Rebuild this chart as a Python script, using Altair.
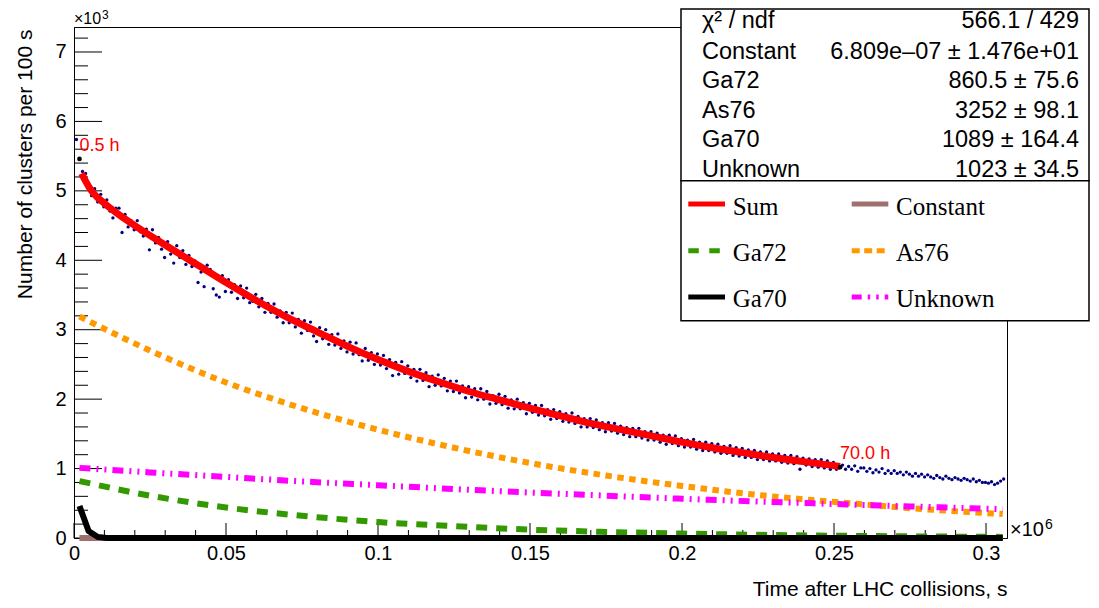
import altair as alt
import pandas as pd

# ---------------- data (x in 10^6 s, y in 10^3 clusters per 100 s) ----------------
X_MAX = 0.3069
Y_MAX = 7.36
X_TICKS = [0, 0.05, 0.1, 0.15, 0.2, 0.25, 0.3]
Y_TICKS = [0, 1, 2, 3, 4, 5, 6, 7]

BIN_START = 0.0008
BIN_WIDTH = 0.001
RATE = [
    5.74, 5.46, 5.28, 5.25, 5.10, 4.93, 5.03, 4.84, 4.95, 4.77,
    4.87, 4.71, 4.61, 4.75, 4.75, 4.40, 4.66, 4.48, 4.57, 4.44,
    4.57, 4.41, 4.35, 4.45, 4.15, 4.44, 4.25, 4.33, 4.16, 4.04,
    4.27, 4.09, 3.96, 4.21, 4.04, 4.14, 3.94, 4.07, 3.91, 3.99,
    3.68, 3.83, 3.62, 3.93, 3.87, 3.59, 3.50, 3.47, 3.78, 3.55,
    3.72, 3.54, 3.65, 3.45, 3.63, 3.46, 3.60, 3.39, 3.41, 3.51,
    3.33, 3.45, 3.25, 3.38, 3.25, 3.37, 3.18, 3.27, 3.10, 3.25,
    3.10, 3.24, 3.04, 3.15, 2.95, 3.13, 2.99, 3.11, 2.91, 2.83,
    3.03, 2.87, 3.00, 2.79, 2.93, 2.78, 2.94, 2.73, 2.84, 2.68,
    2.82, 2.65, 2.81, 2.64, 2.55, 2.73, 2.56, 2.67, 2.50, 2.65,
    2.49, 2.63, 2.44, 2.57, 2.34, 2.53, 2.36, 2.54, 2.37, 2.48,
    2.31, 2.43, 2.26, 2.43, 2.27, 2.38, 2.18, 2.33, 2.20, 2.35,
    2.19, 2.30, 2.12, 2.26, 2.11, 2.26, 2.09, 2.19, 2.02, 2.18,
    2.03, 2.15, 1.99, 2.15, 2.00, 2.11, 1.93, 2.05, 1.94, 2.07,
    1.92, 2.04, 1.87, 1.99, 1.86, 2.00, 1.86, 1.95, 1.79, 1.94,
    1.81, 1.91, 1.77, 1.91, 1.76, 1.85, 1.71, 1.85, 1.72, 1.82,
    1.68, 1.79, 1.67, 1.80, 1.65, 1.75, 1.60, 1.72, 1.60, 1.72,
    1.59, 1.70, 1.56, 1.66, 1.53, 1.66, 1.54, 1.65, 1.51, 1.61,
    1.49, 1.59, 1.46, 1.58, 1.46, 1.58, 1.44, 1.53, 1.41, 1.53,
    1.41, 1.51, 1.38, 1.48, 1.35, 1.48, 1.36, 1.47, 1.33, 1.43,
    1.31, 1.41, 1.31, 1.42, 1.28, 1.38, 1.26, 1.38, 1.26, 1.36,
    1.24, 1.35, 1.22, 1.32, 1.22, 1.33, 1.19, 1.30, 1.18, 1.29,
    1.16, 1.27, 1.16, 1.26, 1.13, 1.24, 1.13, 1.24, 1.11, 1.21,
    1.11, 1.21, 1.09, 1.19, 1.08, 1.19, 1.07, 1.17, 0.99, 1.15,
    1.05, 1.14, 1.03, 1.13, 1.02, 1.13, 1.01, 1.11, 0.99, 1.09,
    0.99, 1.03, 1.05, 0.99, 1.03, 0.99, 1.04, 0.96, 1.01, 1.01,
    0.96, 1.00, 0.94, 0.98, 0.95, 1.00, 0.93, 0.97, 0.93, 0.97,
    0.93, 0.95, 0.91, 0.95, 0.92, 0.89, 0.93, 0.89, 0.92, 0.88,
    0.91, 0.88, 0.86, 0.90, 0.87, 0.85, 0.89, 0.86, 0.84, 0.87,
    0.85, 0.83, 0.86, 0.84, 0.82, 0.85, 0.81, 0.83, 0.80, 0.80,
    0.79, 0.81, 0.77, 0.79, 0.82, 0.85,
]

SUM_X = [0.0025, 0.005, 0.0065, 0.01, 0.015, 0.02, 0.03, 0.04, 0.05, 0.06,
         0.07, 0.08, 0.09, 0.1, 0.11, 0.12, 0.13, 0.14, 0.15, 0.16,
         0.17, 0.18, 0.19, 0.2, 0.21, 0.22, 0.23, 0.24, 0.252]
SUM_Y = [5.25, 5.05, 4.96, 4.82, 4.65, 4.50, 4.22, 3.95, 3.68, 3.42,
         3.18, 2.97, 2.76, 2.57, 2.40, 2.25, 2.11, 1.99, 1.87, 1.76,
         1.65, 1.56, 1.47, 1.38, 1.30, 1.23, 1.16, 1.10, 1.03]

COMP_X = [0.0018, 0.025, 0.05, 0.075, 0.1, 0.125, 0.15, 0.175, 0.2, 0.225, 0.25, 0.275, 0.3055]
AS76 = [3.19, 2.70, 2.24, 1.87, 1.56, 1.30, 1.08, 0.90, 0.75, 0.62, 0.52, 0.43, 0.345]
GA72 = [0.82, 0.61, 0.44, 0.32, 0.23, 0.17, 0.12, 0.088, 0.064, 0.046, 0.033, 0.024, 0.016]
UNKNOWN = [1.01, 0.945, 0.88, 0.815, 0.76, 0.705, 0.655, 0.61, 0.565, 0.525, 0.49, 0.455, 0.415]
GA70_X = [0.0018, 0.0048, 0.0078, 0.0108, 0.3055]
GA70 = [0.46, 0.10, 0.015, 0.0, 0.0]
CONST_X = [0.0018, 0.3055]
CONST = [0.0, 0.0]

RANGE_X = [0.0018, 0.252]
RANGE_Y = [5.46, 1.02]
RANGE_LABELS = ["0.5 h", "70.0 h"]

STAT_NAMES = ["χ² / ndf", "Constant", "Ga72", "As76", "Ga70", "Unknown"]
STAT_VALUES = ["566.1 / 429", "6.809e–07 ± 1.476e+01", "860.5 ± 75.6",
               "3252 ± 98.1", "1089 ± 164.4", "1023 ± 34.5"]
LEGEND_NAMES = ["Sum", "Constant", "Ga72", "As76", "Ga70", "Unknown"]

# ---------------- styles ----------------
SANS = "Liberation Sans"
SERIF = "Liberation Serif"
W, H = 933, 511
C_RED, C_BROWN, C_GREEN = "#ff0000", "#9f7070", "#339900"
C_ORANGE, C_BLACK, C_MAGENTA = "#ff9900", "#000000", "#ff00ff"
C_NAVY = "#000080"

xs = alt.Scale(domain=[0, X_MAX], nice=False, zero=False)
ys = alt.Scale(domain=[0, Y_MAX], nice=False, zero=False)
x_axis = alt.Axis(values=X_TICKS, format="~g", ticks=False, tickSize=0, labelFontSize=20,
                  labelPadding=5, labelFlush=False, labelOverlap=False, grid=False,
                  domainColor="black", labelColor="black", labelFont=SANS,
                  title="Time after LHC collisions, s", titleFont=SANS, titleFontSize=21,
                  titleFontWeight="normal", titleColor="black", titleX=W, titleY=57,
                  titleAlign="right", titleBaseline="alphabetic")
y_axis = alt.Axis(values=Y_TICKS, format="d", ticks=False, tickSize=0, labelFontSize=20,
                  labelPadding=8, labelFlush=False, labelOverlap=False, grid=False,
                  domainColor="black", labelColor="black", labelFont=SANS,
                  title="Number of clusters per 100 s", titleFont=SANS, titleFontSize=21,
                  titleFontWeight="normal", titleColor="black", titleX=-43, titleY=2,
                  titleAngle=270, titleAlign="right", titleBaseline="alphabetic")
X = alt.X("t:Q", scale=xs, axis=x_axis)
Y = alt.Y("v:Q", scale=ys, axis=y_axis)

ONE = pd.DataFrame({"k": [0]})


def curve(xv, yv, color, width, dash=None, interp="monotone"):
    df = pd.DataFrame({"t": xv, "v": yv})
    kw = dict(color=color, strokeWidth=width, interpolate=interp, strokeCap="butt")
    if dash:
        kw["strokeDash"] = dash
    return alt.Chart(df).mark_line(**kw).encode(x=X, y=Y)


def txt(s, x, y, size, align="left", font=SANS, color="black"):
    return alt.Chart(ONE).mark_text(text=s, align=align, baseline="alphabetic", font=font,
                                    fontSize=size, color=color).encode(
        x=alt.value(x), y=alt.value(y))


def hline(x1, x2, y, color, width, dash=None):
    kw = dict(color=color, strokeWidth=width, strokeCap="butt")
    if dash:
        kw["strokeDash"] = dash
    return alt.Chart(ONE).mark_rule(**kw).encode(x=alt.value(x1), x2=alt.value(x2), y=alt.value(y))


layers = []

# inward ticks
x_minor = [round(0.01 * i, 2) for i in range(1, 31) if i % 5 != 0]
y_minor = [round(0.2 * i, 1) for i in range(1, 37) if i % 5 != 0]
layers.append(alt.Chart(pd.DataFrame({"t": X_TICKS})).mark_rule(color="black", strokeWidth=1)
              .encode(x=X, y=alt.value(H), y2=alt.value(H - 15)))
layers.append(alt.Chart(pd.DataFrame({"t": x_minor})).mark_rule(color="black", strokeWidth=1)
              .encode(x=X, y=alt.value(H), y2=alt.value(H - 8)))
layers.append(alt.Chart(pd.DataFrame({"v": Y_TICKS})).mark_rule(color="black", strokeWidth=1)
              .encode(y=Y, x=alt.value(0), x2=alt.value(28)))
layers.append(alt.Chart(pd.DataFrame({"v": y_minor})).mark_rule(color="black", strokeWidth=1)
              .encode(y=Y, x=alt.value(0), x2=alt.value(14)))

# data points
pts = pd.DataFrame({"t": [BIN_START + i * BIN_WIDTH for i in range(len(RATE))], "v": RATE})
layers.append(alt.Chart(pts).mark_circle(color=C_NAVY, size=11, opacity=1).encode(x=X, y=Y))

# component curves and sum
layers.append(curve(CONST_X, CONST, C_BROWN, 6, interp="linear"))
layers.append(curve(COMP_X, GA72, C_GREEN, 6, dash=[11, 9]))
layers.append(curve(COMP_X, AS76, C_ORANGE, 6, dash=[6.5, 5.5]))
layers.append(curve(GA70_X, GA70, C_BLACK, 6, interp="linear"))
layers.append(curve(COMP_X, UNKNOWN, C_MAGENTA, 6, dash=[11, 6, 2, 6, 2, 6]))
layers.append(curve(SUM_X, SUM_Y, C_RED, 7))

# fit-range markers and labels
rng = pd.DataFrame({"t": RANGE_X, "v": RANGE_Y, "lab": RANGE_LABELS})
layers.append(alt.Chart(rng).mark_circle(color="black", size=22, opacity=1).encode(x=X, y=Y))
layers.append(alt.Chart(rng).mark_text(align="left", baseline="alphabetic", dx=0, dy=-8,
                                       font=SANS, fontSize=18, color=C_RED)
              .encode(x=X, y=Y, text="lab:N"))

# exponent labels
layers.append(txt("×10", 0, -3, 16))
layers.append(txt("3", 28, -8, 12))
layers.append(txt("×10", 936, 509, 20))
layers.append(txt("6", 971, 502, 14))

# stat box
BX1, BX2 = 607, 1015
layers.append(alt.Chart(ONE).mark_rect(fill="white", stroke="black", strokeWidth=1.5)
              .encode(x=alt.value(BX1), x2=alt.value(BX2), y=alt.value(-18), y2=alt.value(153.7)))
row_y = [1.3, 32.3, 61.3, 91.3, 120.3, 150.3]
for name, val, yy in zip(STAT_NAMES, STAT_VALUES, row_y):
    layers.append(txt(name, 628, yy, 23.5))
    layers.append(txt(val, 1005, yy, 23.5, align="right"))

# legend box
layers.append(alt.Chart(ONE).mark_rect(fill="white", stroke="black", strokeWidth=1.5)
              .encode(x=alt.value(BX1), x2=alt.value(BX2), y=alt.value(153.7), y2=alt.value(293.7)))
leg_styles = [
    (C_RED, None), (C_BROWN, None),
    (C_GREEN, [10.5, 10.5]), (C_ORANGE, [8, 4.5]),
    (C_BLACK, None), (C_MAGENTA, [10, 6, 2.5, 6, 2.5, 6]),
]
line_y = [177, 223.7, 270]
text_y = [188, 234, 280.3]
col_line = [(614.3, 651), (777.7, 814.3)]
col_text = [658.7, 822]
for k, (name, (col, dash)) in enumerate(zip(LEGEND_NAMES, leg_styles)):
    r, c = divmod(k, 2)
    layers.append(hline(col_line[c][0], col_line[c][1], line_y[r], col, 5, dash))
    layers.append(txt(name, col_text[c], text_y[r], 25, font=SERIF))

chart = alt.layer(*layers).properties(
    width=W, height=H,
    autosize=alt.AutoSizeParams(type="none"),
    padding={"left": 66, "top": 19, "right": 84, "bottom": 61},
).configure_view(stroke="black", strokeWidth=1).configure_axis(domainWidth=1)

chart.save("out.html", embed_options={"renderer": "svg", "actions": False})
